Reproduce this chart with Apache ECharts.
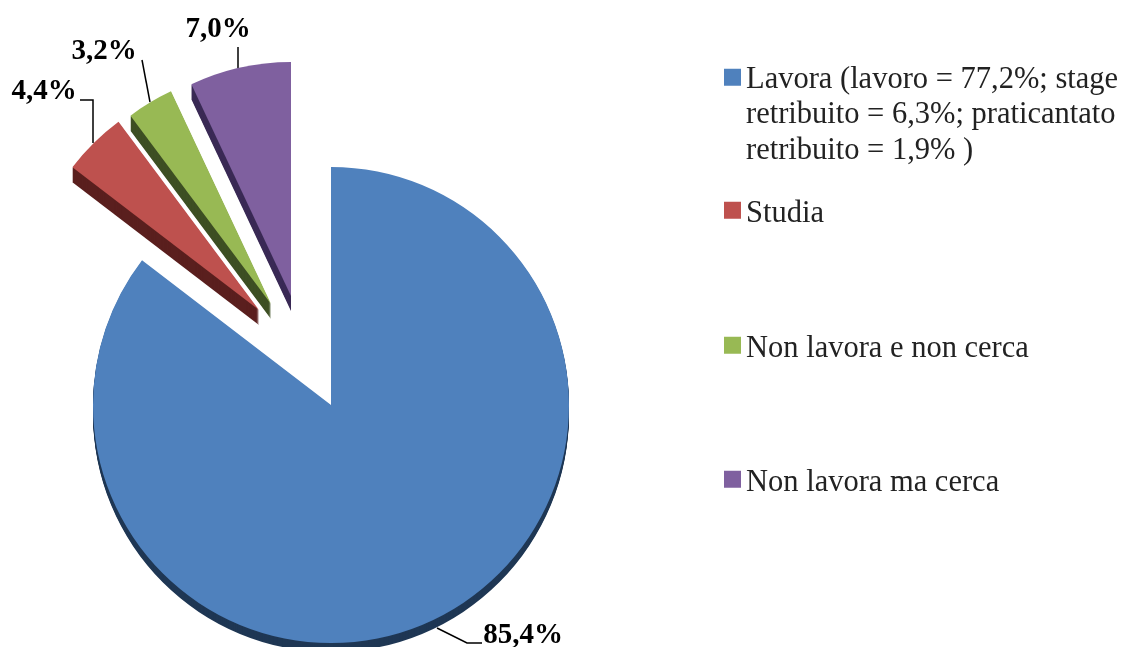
<!DOCTYPE html>
<html>
<head>
<meta charset="utf-8">
<style>
  html, body { margin: 0; padding: 0; background: #fff; }
  #main { width: 1128px; height: 647px; }
</style>
<script src="https://cdn.jsdelivr.net/npm/echarts@6/dist/echarts.min.js"></script>
</head>
<body>
<div id="main"></div>
<script>
var categories = [
  'Lavora (lavoro = 77,2%; stage\nretribuito = 6,3%; praticantato\nretribuito = 1,9% )',
  'Studia',
  'Non lavora e non cerca',
  'Non lavora ma cerca'
];
var shares = [85.4, 4.4, 3.2, 7.0];

var faceColors = ['#4F81BD', '#BE514E', '#98B954', '#7F609F'];
var sideColors = ['#1F3754', '#5A1F1E', '#3D4F23', '#3A2A55'];

// ogni fetta ha il suo centro (torta esplosa a mano)
var sliceCenters = [[331, 405], [259, 310], [271, 304], [291, 296]];
var sliceRadius = [238, 235, 235, 234];
var sliceDepth = [9, 15, 15, 15];
var labelPos = [[523, 636], [44, 92], [104, 52], [218, 30]];
var leaderLines = [
  [[437, 628], [467, 643], [482, 643]],
  [[93, 143], [93, 100], [80, 100]],
  [[150, 102], [146, 81], [142, 60]],
  [[238, 68], [238, 57], [238, 47]]
];
var legendY = [77, 211, 346, 480];

function fmtPct(v) {
  return v.toFixed(1).replace('.', ',') + '%';
}

// dati della serie: solo la fetta idx è visibile, il resto resta trasparente
function sliceData(idx, color, withName) {
  return shares.map(function (v, i) {
    if (i !== idx) {
      return { value: v, name: '', itemStyle: { color: 'transparent' }, label: { show: false }, labelLine: { show: false } };
    }
    return { value: v, name: withName ? categories[i] : '', itemStyle: { color: color } };
  });
}

var series = [];

// lato 3D: copie scure spostate verso il basso
shares.forEach(function (v, idx) {
  for (var d = sliceDepth[idx]; d > 0; d -= 1) {
    series.push({
      type: 'pie',
      silent: true,
      startAngle: 90,
      clockwise: true,
      animation: false,
      center: [sliceCenters[idx][0], sliceCenters[idx][1] + d],
      radius: [0, sliceRadius[idx]],
      label: { show: false },
      labelLine: { show: false },
      data: sliceData(idx, sideColors[idx], false)
    });
  }
});

// facce con etichette
shares.forEach(function (v, idx) {
  series.push({
    type: 'pie',
    silent: true,
    startAngle: 90,
    clockwise: true,
    animation: false,
    avoidLabelOverlap: false,
    center: sliceCenters[idx],
    radius: [0, sliceRadius[idx]],
    label: {
      show: true,
      position: 'outside',
      formatter: function (p) { return fmtPct(p.value); },
      fontFamily: 'Liberation Serif',
      fontWeight: 'bold',
      fontSize: 29,
      color: '#000'
    },
    labelLine: {
      show: true,
      length: 20,
      length2: 12,
      lineStyle: { color: '#000', width: 1.5 }
    },
    labelLayout: {
      x: labelPos[idx][0],
      y: labelPos[idx][1],
      align: 'center',
      verticalAlign: 'middle',
      labelLinePoints: leaderLines[idx]
    },
    data: sliceData(idx, faceColors[idx], true)
  });
});

var legends = categories.map(function (name, i) {
  var multi = name.indexOf('\n') >= 0;
  return {
    data: [name],
    left: 724,
    top: multi ? legendY[i] - 91 : legendY[i] - 21,
    padding: 0,
    orient: 'vertical',
    selectedMode: false,
    icon: 'rect',
    itemWidth: 17,
    itemHeight: 17,
    formatter: function (n) {
      // righe vuote sopra: il quadratino resta allineato alla prima riga
      return multi ? '\n\n' + n : '{t|' + n + '}';
    },
    textStyle: {
      fontFamily: 'Liberation Serif',
      fontSize: 30.5,
      lineHeight: 35.5,
      padding: [5, 0, 0, 0],
      color: '#222',
      rich: {
        t: {
          fontFamily: 'Liberation Serif',
          fontSize: 30.5,
          color: '#222',
          padding: [3, 0, 0, 0]
        }
      }
    }
  };
});

var chart = echarts.init(document.getElementById('main'));
chart.setOption({
  backgroundColor: '#fff',
  legend: legends,
  series: series
});
</script>
</body>
</html>
